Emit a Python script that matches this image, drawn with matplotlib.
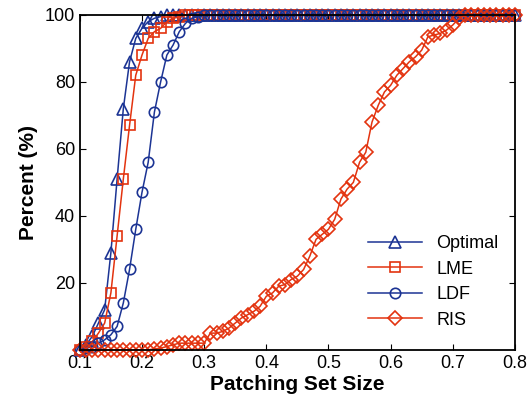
import numpy as np
import matplotlib
matplotlib.use('Agg')
import matplotlib.pyplot as plt

plt.rcParams['font.family'] = ['Liberation Sans', 'DejaVu Sans']

# patching set size, step 0.01 from 0.10 to 0.80
x = np.round(np.arange(0.10, 0.805, 0.01), 2)

optimal_head = [0, 1.5, 4, 8, 12, 29, 51, 72, 86, 93, 96, 98, 99, 99.5]
lme_head = [0, 1, 2.5, 5, 8, 17, 34, 51, 67, 82, 88, 93, 95, 96, 98, 99, 99.5]
ldf_head = [0, 0.5, 1, 2, 3, 4.5, 7, 14, 24, 36, 47, 56, 71, 80, 88, 91, 95, 97.5, 99, 99.5]
ris_head = [0, 0, 0, 0, 0, 0, 0, 0, 0, 0, 0, 0, 0.3, 0.5, 1, 1.5, 2, 2, 2, 2, 2,
            5, 5, 5.5, 6.5, 8, 9.5, 10.5, 11.5, 13, 16, 17, 19, 19.5, 21, 22, 24,
            28, 33, 34.5, 36, 39, 45, 48, 50, 56, 59, 68, 73, 77, 79, 82, 84, 86,
            87.5, 89.5, 93.5, 94, 94.5, 95.5, 97, 99]

def pad(vals):
    return vals + [100] * (len(x) - len(vals))

optimal = pad(optimal_head)
lme = pad(lme_head)
ldf = pad(ldf_head)
ris = pad(ris_head)

blue = '#1c3494'
red = '#e3330f'

fig = plt.figure(figsize=(5.32, 4.04), dpi=100)
ax = fig.add_axes([0.150, 0.134, 0.818, 0.829])

style = dict(linewidth=1.1, markerfacecolor='none', markeredgewidth=1.2, clip_on=False)
ax.plot(x, optimal, '-^', color=blue, markersize=8.5, label='Optimal', **style)
ax.plot(x, lme, '-s', color=red, markersize=7, label='LME', **style)
ax.plot(x, ldf, '-o', color=blue, markersize=7.5, label='LDF', **style)
ax.plot(x, ris, '-D', color=red, markersize=6.8, label='RIS', **style)

ax.set_xlim(0.1, 0.8)
ax.set_ylim(0, 100)
ax.set_xticks([0.1, 0.2, 0.3, 0.4, 0.5, 0.6, 0.7, 0.8])
ax.set_xticklabels(['0.1', '0.2', '0.3', '0.4', '0.5', '0.6', '0.7', '0.8'])
ax.set_yticks([20, 40, 60, 80, 100])
ax.tick_params(direction='in', top=True, right=True, labelsize=13, length=4)
for s in ax.spines.values():
    s.set_linewidth(1.3)

ax.set_xlabel('Patching Set Size', fontsize=15, fontweight='bold', labelpad=2)
ax.set_ylabel('Percent (%)', fontsize=15, fontweight='bold', labelpad=5)

ax.legend(loc='lower right', frameon=False, fontsize=13, handlelength=3,
          labelspacing=0.47, bbox_to_anchor=(1.0, 0.015))

fig.savefig('out.png', dpi=100)
